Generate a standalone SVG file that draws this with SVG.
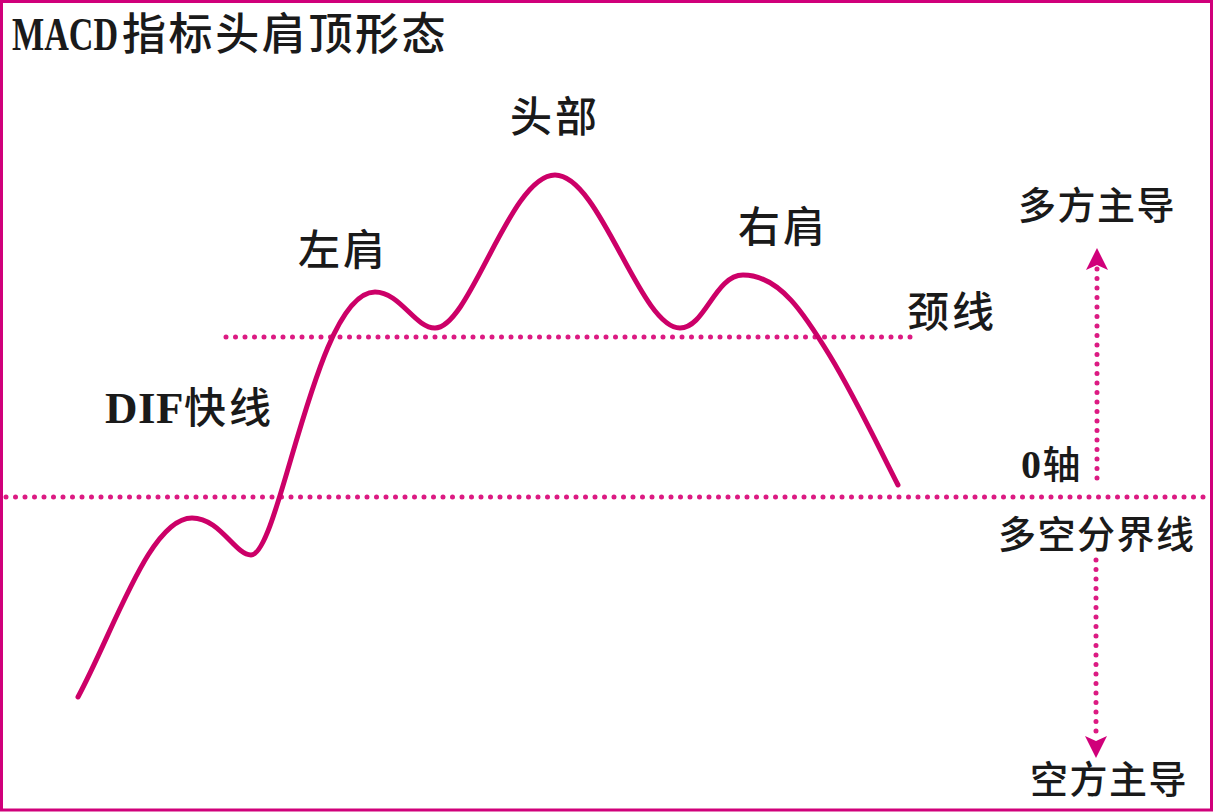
<svg xmlns="http://www.w3.org/2000/svg" width="1214" height="812" viewBox="0 0 1214 812">
<defs>
<style>
.cjk{font-family:"Noto Sans CJK SC","Liberation Sans",sans-serif;fill:#1a1a1a;font-weight:500;}
.lbl{font-size:42px;letter-spacing:3px;}
.side{font-size:38px;letter-spacing:1.5px;}
.lat{font-family:"Liberation Serif","Noto Sans CJK SC",serif;}
.dot{fill:none;stroke:#dc1a82;stroke-width:5;stroke-linecap:round;stroke-dasharray:0 9.5;}
.curve{fill:none;stroke:#cc0068;stroke-width:5;stroke-linecap:round;stroke-linejoin:round;}
</style>
<marker id="ah" viewBox="0 0 24 24" refX="4" refY="12" markerWidth="24" markerHeight="24" markerUnits="userSpaceOnUse" orient="auto">
<path d="M0,1 L22,12 L0,23 L5,12 Z" fill="#d0007a"/>
</marker>
</defs>
<rect x="1.5" y="1.5" width="1210" height="808.5" fill="#fff" stroke="#d0007a" stroke-width="3"/>

<g id="title">
<text x="12" y="50" class="cjk" font-size="44" font-weight="bold"><tspan class="lat" font-size="46" font-weight="bold" textLength="106" lengthAdjust="spacingAndGlyphs">MACD</tspan><tspan x="122" letter-spacing="2.6">指标头肩顶形态</tspan></text>
</g>

<g id="lines">
<path id="zero-axis" class="dot" d="M6,497 H1206"/>
<path id="neckline" class="dot" d="M226,337 H917"/>
<path id="arrow-up" class="dot" d="M1097,478 V266" marker-end="url(#ah)"/>
<path id="arrow-down" class="dot" d="M1096,560 V740" marker-end="url(#ah)"/>
</g>

<g id="dif-curve">
<path class="curve" d="M78,697 C115,628 150,518 192,518 C220,518 235,555 251,555 C280,555 315,292 375,292 C400,292 415,328 435,328 C470,328 510,175 555,175 C600,175 640,328 680,328 C705,328 715,275 743,275 C780,275 805,315 830,356 C855,397 880,450 898,485"/>
</g>

<g id="label-head"><text x="510" y="132" class="cjk lbl">头部</text></g>
<g id="label-left-shoulder"><text x="298" y="265" class="cjk lbl">左肩</text></g>
<g id="label-right-shoulder"><text x="738" y="242" class="cjk lbl">右肩</text></g>
<g id="label-neckline"><text x="907" y="327" class="cjk lbl">颈线</text></g>
<g id="label-dif"><text x="105" y="423" class="cjk lbl" letter-spacing="1"><tspan class="lat" font-size="45" font-weight="bold" letter-spacing="0.5">DIF</tspan>快线</text></g>
<g id="label-bull"><text x="1018" y="219" class="cjk side">多方主导</text></g>
<g id="label-zero"><text x="1021" y="478" class="cjk side" letter-spacing="0"><tspan class="lat" font-size="40" font-weight="bold">0</tspan>轴</text></g>
<g id="label-divide"><text x="998" y="548" class="cjk side">多空分界线</text></g>
<g id="label-bear"><text x="1030" y="793" class="cjk side">空方主导</text></g>
</svg>
